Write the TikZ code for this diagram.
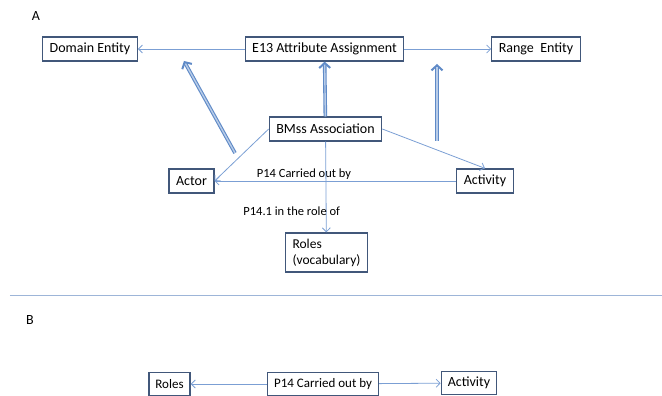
\documentclass[tikz,border=0pt]{standalone}
\usepackage{fontspec}
\setmainfont{Carlito}
\usetikzlibrary{arrows.meta}
\definecolor{boxline}{HTML}{41577A}
\definecolor{linkblue}{HTML}{7B9FD4}
\definecolor{arrowblue}{HTML}{5F8AC7}
\definecolor{arrowfill}{HTML}{B8CCE8}
\definecolor{ruleblue}{HTML}{9DB5D8}
\tikzstyle{entity} = [rectangle, draw=boxline, line width=1.3pt, minimum height=24pt, inner xsep=7pt, font=\fontsize{14}{16}\selectfont]
\tikzstyle{smallbox} = [entity, minimum height=23pt, inner xsep=6.5pt, font=\fontsize{13}{15}\selectfont]
\tikzstyle{link} = [draw=linkblue, line width=0.8pt, -{Straight Barb[length=4pt,width=8pt]}]
\tikzstyle{lift} = [draw=arrowblue, line width=3.6pt, -{Straight Barb[length=5pt,width=11pt,line width=2pt]}, postaction={draw=arrowfill, line width=1.4pt, shorten >=3pt, -}]
\tikzstyle{rel} = [font=\fontsize{12.5}{14}\selectfont, inner sep=1pt]
\begin{document}
\begin{tikzpicture}[node distance=80pt]
\useasboundingbox (-324.5pt,49pt) rectangle (337.5pt,-347pt);

% A
\node (la) at (-288.5pt,33pt) [font=\fontsize{14}{16}\selectfont] {A};
\node (ea) [entity] {E13 Attribute Assignment};
\node (dom) [entity, left of=ea, xshift=-154.5pt] {Domain Entity};
\node (rng) [entity, right of=ea, xshift=131.5pt] {Range\ \ Entity};
\node (bm) [entity, below of=ea, xshift=1pt] {BMss Association};
\node (actor) [entity, below of=bm, yshift=28pt, xshift=-134pt] {Actor};
\node (act) [entity, below of=bm, yshift=28pt, xshift=159.5pt] {Activity};
\node (roles) [entity, below of=bm, xshift=1pt, yshift=-43.5pt, minimum height=39pt, align=left, font=\fontsize{13.5}{16}\selectfont] {Roles\\(vocabulary)};

\coordinate (dtail) at (-89.5pt,-104pt);
\coordinate (dhead) at (-140.5pt,-12pt);
\coordinate (rtail) at (112.5pt,-92pt);
\coordinate (rhead) at (112.5pt,-15pt);

\draw [link] (ea) -- (dom);
\draw [link] (ea) -- (rng);
\draw [link] (bm.west) -- (actor.east);
\draw [link] (bm.east) -- (act.north);
\draw [link] (act) -- node (lcarry) [rel, above, pos=0.63] {P14 Carried out by} (actor);
\draw [link] (bm) -- node (lrole) [rel, pos=0.77, xshift=-34.5pt] {P14.1 in the role of} (roles);

\draw [lift] (dtail) -- (dhead);
\draw [lift] (bm) -- (ea);
\draw [lift] (rtail) -- (rhead);

\draw [ruleblue, line width=1pt] (-314.5pt,-246pt) -- (337.5pt,-246pt);

% B
\node (lb) at (-294.5pt,-271pt) [font=\fontsize{14}{16}\selectfont] {B};
\node (carry) [smallbox] at (-1.5pt,-335pt) {P14 Carried out by};
\node (rolesb) [smallbox, left of=carry, xshift=-73.5pt] {Roles};
\node (actb) [smallbox, right of=carry, xshift=66pt, yshift=1pt, font=\fontsize{14}{16}\selectfont] {Activity};

\draw [link] (carry) -- (rolesb);
\draw [link] (carry) -- (actb);
\end{tikzpicture}
\end{document}
